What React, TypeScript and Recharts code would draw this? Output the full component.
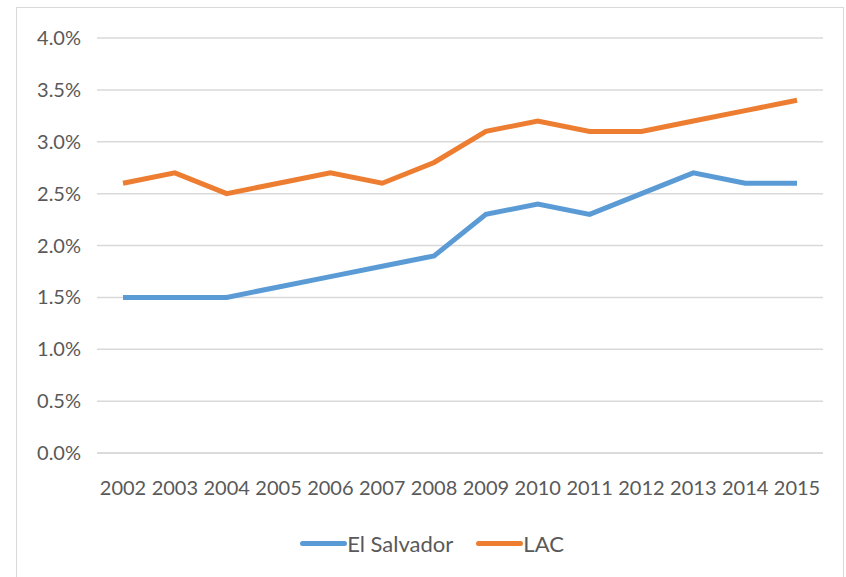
import React from 'react';
import { LineChart, Line, XAxis, YAxis, CartesianGrid, Legend } from 'recharts';

const years = ['2002', '2003', '2004', '2005', '2006', '2007', '2008', '2009', '2010', '2011', '2012', '2013', '2014', '2015'];
const elSalvador = [1.5, 1.5, 1.5, 1.6, 1.7, 1.8, 1.9, 2.3, 2.4, 2.3, 2.5, 2.7, 2.6, 2.6];
const lac = [2.6, 2.7, 2.5, 2.6, 2.7, 2.6, 2.8, 3.1, 3.2, 3.1, 3.1, 3.2, 3.3, 3.4];
const yTicks = [0, 0.5, 1, 1.5, 2, 2.5, 3, 3.5, 4];

const data = years.map((year, i) => ({ year, elSalvador: elSalvador[i], lac: lac[i] }));

const FONT = 'Lato, sans-serif';
const TEXT = '#595959';

const LegendContent = (props: any) => {
    const items = props.payload || [];
    return (
        <div style={{ display: 'flex', justifyContent: 'center', alignItems: 'center', gap: 23, height: 30, fontFamily: FONT, fontSize: 22, color: TEXT, paddingLeft: 24 }}>
            {items.map((it: any) => (
                <div key={it.value} style={{ display: 'flex', alignItems: 'center' }}>
                    <span style={{ display: 'inline-block', width: 47, height: 5, borderRadius: 3, background: it.color }} />
                    <span>{it.value}</span>
                </div>
            ))}
        </div>
    );
};

export default function App() {
    return (
        <div style={{ position: 'absolute', left: 16, top: 7, width: 826, height: 580, border: '1px solid #d9d9d9', background: '#fff' }}>
            <LineChart width={828} height={570} data={data} margin={{ top: 30, right: 22, left: 0, bottom: 20 }}>
                <CartesianGrid vertical={false} stroke="#d9d9d9" strokeWidth={1.5} />
                <XAxis
                    dataKey="year"
                    height={75}
                    padding={{ left: 26, right: 26 }}
                    axisLine={{ stroke: '#d9d9d9', strokeWidth: 1.5 }}
                    tickLine={false}
                    tickSize={0}
                    tickMargin={28}
                    interval={0}
                    tick={{ fill: TEXT, fontSize: 20, fontFamily: FONT }}
                />
                <YAxis
                    width={80}
                    domain={[0, 4]}
                    ticks={yTicks}
                    axisLine={false}
                    tickLine={false}
                    tickSize={0}
                    tickMargin={16}
                    tickFormatter={(v: number) => `${v.toFixed(1)}%`}
                    tick={{ fill: TEXT, fontSize: 20, fontFamily: FONT }}
                />
                <Legend verticalAlign="bottom" height={30} content={<LegendContent />} />
                <Line type="linear" dataKey="elSalvador" name="El Salvador" stroke="#5B9BD5" strokeWidth={5} dot={false} isAnimationActive={false} />
                <Line type="linear" dataKey="lac" name="LAC" stroke="#ED7D31" strokeWidth={5} dot={false} isAnimationActive={false} />
            </LineChart>
        </div>
    );
}
